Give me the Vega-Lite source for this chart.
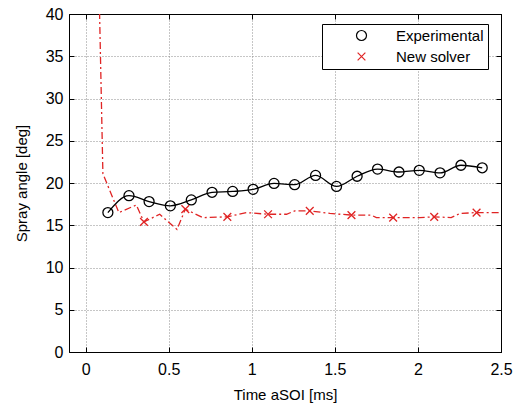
{
  "$schema": "https://vega.github.io/schema/vega-lite/v6.json",
  "width": 432,
  "height": 338,
  "autosize": {"type": "none"},
  "padding": {"left": 69, "top": 14, "right": 12, "bottom": 55},
  "background": "white",
  "config": {
    "font": "Liberation Sans",
    "view": {"stroke": "black", "strokeWidth": 1},
    "axis": {
      "labelFont": "Liberation Sans",
      "titleFont": "Liberation Sans",
      "labelColor": "black",
      "titleColor": "black",
      "labelFontSize": 16,
      "titleFontSize": 15,
      "titleFontWeight": "normal",
      "domainColor": "black",
      "tickColor": "black",
      "gridColor": "#8c8c8c",
      "gridDash": [1, 2],
      "gridWidth": 1,
      "gridOpacity": 1
    },
    "legend": {
      "labelFont": "Liberation Sans",
      "labelFontSize": 15,
      "labelColor": "black"
    }
  },
  "datasets": {
    "markers": [
      {"time": 0.134, "angle": 16.5, "series": "Experimental"},
      {"time": 0.261, "angle": 18.5, "series": "Experimental"},
      {"time": 0.382, "angle": 17.8, "series": "Experimental"},
      {"time": 0.51, "angle": 17.3, "series": "Experimental"},
      {"time": 0.636, "angle": 18.0, "series": "Experimental"},
      {"time": 0.761, "angle": 18.9, "series": "Experimental"},
      {"time": 0.885, "angle": 19.0, "series": "Experimental"},
      {"time": 1.008, "angle": 19.25, "series": "Experimental"},
      {"time": 1.134, "angle": 19.95, "series": "Experimental"},
      {"time": 1.258, "angle": 19.8, "series": "Experimental"},
      {"time": 1.384, "angle": 20.9, "series": "Experimental"},
      {"time": 1.51, "angle": 19.6, "series": "Experimental"},
      {"time": 1.634, "angle": 20.8, "series": "Experimental"},
      {"time": 1.757, "angle": 21.65, "series": "Experimental"},
      {"time": 1.886, "angle": 21.3, "series": "Experimental"},
      {"time": 2.008, "angle": 21.5, "series": "Experimental"},
      {"time": 2.133, "angle": 21.2, "series": "Experimental"},
      {"time": 2.259, "angle": 22.1, "series": "Experimental"},
      {"time": 2.387, "angle": 21.8, "series": "Experimental"},
      {"time": 0.351, "angle": 15.4, "series": "New solver"},
      {"time": 0.6, "angle": 16.9, "series": "New solver"},
      {"time": 0.853, "angle": 16.0, "series": "New solver"},
      {"time": 1.098, "angle": 16.3, "series": "New solver"},
      {"time": 1.349, "angle": 16.7, "series": "New solver"},
      {"time": 1.6, "angle": 16.2, "series": "New solver"},
      {"time": 1.851, "angle": 15.9, "series": "New solver"},
      {"time": 2.098, "angle": 16.0, "series": "New solver"},
      {"time": 2.353, "angle": 16.5, "series": "New solver"}
    ],
    "solver_profile": [
      {"time": 0.082, "angle": 42.0},
      {"time": 0.104, "angle": 21.1},
      {"time": 0.2, "angle": 16.5},
      {"time": 0.305, "angle": 17.4},
      {"time": 0.351, "angle": 15.4},
      {"time": 0.446, "angle": 16.3},
      {"time": 0.55, "angle": 14.5},
      {"time": 0.6, "angle": 16.9},
      {"time": 0.707, "angle": 15.9},
      {"time": 0.853, "angle": 16.0},
      {"time": 0.968, "angle": 16.5},
      {"time": 1.098, "angle": 16.3},
      {"time": 1.209, "angle": 16.3},
      {"time": 1.259, "angle": 16.7},
      {"time": 1.349, "angle": 16.7},
      {"time": 1.47, "angle": 16.4},
      {"time": 1.6, "angle": 16.2},
      {"time": 1.72, "angle": 16.2},
      {"time": 1.75, "angle": 15.9},
      {"time": 1.851, "angle": 15.9},
      {"time": 2.012, "angle": 15.9},
      {"time": 2.098, "angle": 16.0},
      {"time": 2.2, "angle": 15.9},
      {"time": 2.253, "angle": 16.4},
      {"time": 2.353, "angle": 16.5},
      {"time": 2.5, "angle": 16.5}
    ]
  },
  "resolve": {"axis": {"x": "independent", "y": "independent"}},
  "layer": [
    {
      "data": {"name": "solver_profile"},
      "mark": {"type": "line", "color": "#e02424", "strokeWidth": 1.3, "strokeDash": [7, 3, 2, 3], "clip": true},
      "encoding": {
        "x": {
          "field": "time", "type": "quantitative",
          "scale": {"domain": [-0.1, 2.5], "nice": false, "zero": false},
          "axis": {
            "orient": "bottom", "title": "Time aSOI [ms]",
            "values": [0, 0.5, 1, 1.5, 2, 2.5], "format": "~g",
            "grid": true, "tickSize": -5, "labelPadding": 14,
            "titlePadding": 10, "labelFlush": false
          }
        },
        "y": {
          "field": "angle", "type": "quantitative",
          "scale": {"domain": [0, 40], "nice": false},
          "axis": {
            "orient": "left", "title": "Spray angle [deg]",
            "values": [0, 5, 10, 15, 20, 25, 30, 35, 40],
            "grid": true, "tickSize": -5, "labelPadding": 11,
            "titlePadding": 16
          }
        }
      }
    },
    {
      "data": {"name": "markers"},
      "transform": [{"filter": "datum.series === 'Experimental'"}],
      "mark": {"type": "line", "color": "black", "strokeWidth": 1.3, "interpolate": "monotone"},
      "encoding": {
        "x": {
          "field": "time", "type": "quantitative",
          "axis": {"orient": "top", "labels": false, "title": null, "grid": false, "tickSize": -5, "values": [0, 0.5, 1, 1.5, 2, 2.5]}
        },
        "y": {
          "field": "angle", "type": "quantitative",
          "axis": {"orient": "right", "labels": false, "title": null, "grid": false, "tickSize": -5, "values": [0, 5, 10, 15, 20, 25, 30, 35, 40]}
        }
      }
    },
    {
      "data": {"name": "markers"},
      "mark": {"type": "point", "filled": false, "strokeWidth": 1.3, "opacity": 1},
      "encoding": {
        "x": {"field": "time", "type": "quantitative", "axis": null},
        "y": {"field": "angle", "type": "quantitative", "axis": null},
        "color": {
          "field": "series", "type": "nominal",
          "scale": {"domain": ["Experimental", "New solver"], "range": ["black", "#e02424"]},
          "legend": {
            "title": null, "orient": "none", "legendX": 253, "legendY": 10,
            "strokeColor": "black", "fillColor": "white", "padding": 4,
            "symbolOffset": 28, "labelOffset": 27, "rowPadding": 5,
            "symbolSize": 64, "symbolStrokeWidth": 1.2
          }
        },
        "shape": {
          "field": "series", "type": "nominal",
          "scale": {"domain": ["Experimental", "New solver"], "range": ["circle", "M-1,-1L1,1M-1,1L1,-1"]}
        },
        "size": {
          "field": "series", "type": "nominal",
          "scale": {"domain": ["Experimental", "New solver"], "range": [100, 60]},
          "legend": null
        }
      }
    }
  ]
}
